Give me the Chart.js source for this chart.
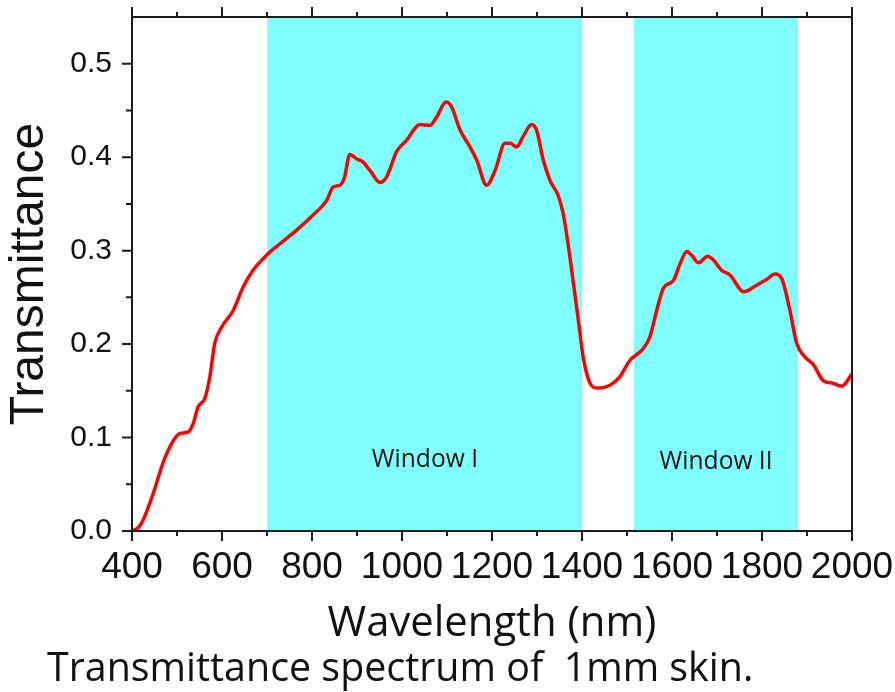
<!DOCTYPE html>
<html><head><meta charset="utf-8">
<script src="https://cdn.jsdelivr.net/npm/chart.js@4.4.1/dist/chart.umd.min.js"></script>
<style>html,body{margin:0;padding:0;background:#fff}#wrap{width:895px;height:692px;position:relative}</style>
</head><body><div id="wrap"><canvas id="c" width="895" height="692"></canvas></div>
<script>
// ---- data ----
const wavelength = [400,415,425,447,469,490,505,525,536,547,562,573,584,599,625,647,669,699,733,766,800,833,847,862,872,884,900,913,930,951,966,988,1010,1040,1062,1077,1098,1110,1129,1151,1166,1188,1207,1229,1240,1255,1269,1288,1299,1314,1329,1347,1358,1370,1381,1392,1403,1418,1433,1462,1484,1507,1536,1551,1566,1581,1603,1618,1633,1644,1659,1679,1692,1710,1729,1759,1788,1810,1829,1844,1862,1877,1896,1914,1936,1958,1977,2000];
const transmittance = [0.000,0.004,0.012,0.040,0.073,0.095,0.104,0.106,0.115,0.133,0.142,0.165,0.201,0.218,0.236,0.261,0.279,0.295,0.309,0.322,0.337,0.354,0.368,0.370,0.378,0.403,0.398,0.395,0.385,0.373,0.379,0.406,0.418,0.435,0.434,0.443,0.459,0.454,0.429,0.411,0.397,0.370,0.386,0.415,0.415,0.411,0.422,0.435,0.429,0.397,0.375,0.359,0.340,0.304,0.265,0.225,0.185,0.158,0.153,0.156,0.165,0.183,0.195,0.208,0.236,0.260,0.268,0.286,0.299,0.295,0.287,0.294,0.290,0.279,0.274,0.256,0.263,0.269,0.275,0.270,0.236,0.201,0.186,0.178,0.161,0.158,0.155,0.168];
const xTickValues = [400,600,800,1000,1200,1400,1600,1800,2000];
const xMinorValues = [500,700,900,1100,1300,1500,1700,1900];
const yTickValues = [0,0.1,0.2,0.3,0.4,0.5];
const yMinorValues = [0.05,0.15,0.25,0.35,0.45];
const windowNames = ['Window I','Window II'];
const windowStart = [700,1515];
const windowEnd = [1400,1880];
const windowLabelX = [1051,1698];
const windowLabelY = [0.076,0.074];
const xTitle = 'Wavelength (nm)';
const yTitle = 'Transmittance';
const caption = 'Transmittance spectrum of  1mm skin.';

// ---- styling helpers ----
const mctx = document.createElement('canvas').getContext('2d');
function fitSize(text, family, width){ mctx.font = '100px ' + family; return 100*width/mctx.measureText(text).width; }
const TXT = '"Open Sans", "Lato", sans-serif';
const AR = '"Liberation Sans", Arial, sans-serif';
const xTitleSize = fitSize(xTitle, TXT, 329);
const captionSize = fitSize(caption, TXT, 706);
const winSize = fitSize('Window I', TXT, 106);
const AXC = '#1c1c1c';

const deco = {
  id: 'deco',
  beforeDatasetsDraw(chart){
    const {ctx, chartArea:a, scales:{x,y}} = chart;
    ctx.save();
    ctx.fillStyle = '#80FFFF';
    windowStart.forEach((s,i)=>{
      const x0 = x.getPixelForValue(s), x1 = x.getPixelForValue(windowEnd[i]);
      ctx.fillRect(x0, a.top, x1-x0, a.bottom-a.top);
    });
    ctx.fillStyle = '#111';
    ctx.font = winSize.toFixed(1) + 'px ' + TXT;
    ctx.textAlign = 'center'; ctx.textBaseline = 'middle';
    windowNames.forEach((n,i)=>{
      ctx.fillText(n, x.getPixelForValue(windowLabelX[i]), y.getPixelForValue(windowLabelY[i]));
    });
    ctx.restore();
  },
  afterDraw(chart){
    const {ctx, chartArea:a, scales:{x,y}} = chart;
    ctx.save();
    ctx.strokeStyle = AXC; ctx.lineWidth = 2; ctx.lineCap = 'butt';
    ctx.beginPath();
    ctx.rect(a.left, a.top, a.right-a.left, a.bottom-a.top);
    ctx.stroke();
    ctx.beginPath();
    const seg = (x0,y0,x1,y1)=>{ctx.moveTo(x0,y0);ctx.lineTo(x1,y1);};
    xTickValues.forEach(v=>{const p=x.getPixelForValue(v); seg(p,a.bottom,p,a.bottom+10); seg(p,a.top,p,a.top-10);});
    xMinorValues.forEach(v=>{const p=x.getPixelForValue(v); seg(p,a.bottom,p,a.bottom+5); seg(p,a.top,p,a.top-5);});
    yTickValues.forEach(v=>{const p=y.getPixelForValue(v); seg(a.left,p,a.left-10,p);});
    yMinorValues.forEach(v=>{const p=y.getPixelForValue(v); seg(a.left,p,a.left-6,p);});
    ctx.stroke();
    ctx.fillStyle = '#111';
    ctx.textBaseline = 'alphabetic';
    ctx.textAlign = 'center';
    ctx.font = xTitleSize.toFixed(1) + 'px ' + TXT;
    ctx.fillText(xTitle, (a.left+a.right)/2, 636);
    ctx.textAlign = 'left';
    ctx.font = captionSize.toFixed(1) + 'px ' + TXT;
    ctx.fillText(caption, 47, 681);
    ctx.restore();
  }
};

new Chart(document.getElementById('c'), {
  type: 'line',
  data: { datasets: [{
    data: wavelength.map((w,i)=>({x:w, y:transmittance[i]})),
    borderColor: '#ff0000', borderWidth: 3.5, pointRadius: 0,
    cubicInterpolationMode: 'monotone', fill: false
  }]},
  options: {
    responsive: false, animation: false, events: [],
    layout: { padding: { top: 17, right: 43, left: 0, bottom: 0 } },
    plugins: { legend: { display: false }, tooltip: { enabled: false } },
    scales: {
      x: {
        type: 'linear', min: 400, max: 2000,
        afterBuildTicks(s){ s.ticks = xTickValues.map(v=>({value:v})); },
        afterFit(s){ s.height = 161; s.paddingLeft = 0; s.paddingRight = 0; },
        ticks: { font: { family: AR, size: 37 }, color: '#111', padding: 5, maxRotation: 0, autoSkip: false, callback: v => String(v) },
        grid: { display: false, drawTicks: true, tickLength: 10 },
        border: { display: false },
        title: { display: false }
      },
      y: {
        type: 'linear', min: 0, max: 0.55,
        afterBuildTicks(s){ s.ticks = yTickValues.map(v=>({value:v})); },
        afterFit(s){ s.width = 132; s.paddingTop = 0; s.paddingBottom = 0; },
        ticks: { font: { family: AR, size: 30 }, color: '#111', padding: 10, callback: v => v.toFixed(1) },
        grid: { display: false, drawTicks: true, tickLength: 10 },
        border: { display: false },
        title: { display: true, text: yTitle, color: '#111', font: { family: AR, size: 48 }, padding: { top: 1, bottom: 0 } }
      }
    }
  },
  plugins: [deco]
});
</script></body></html>
